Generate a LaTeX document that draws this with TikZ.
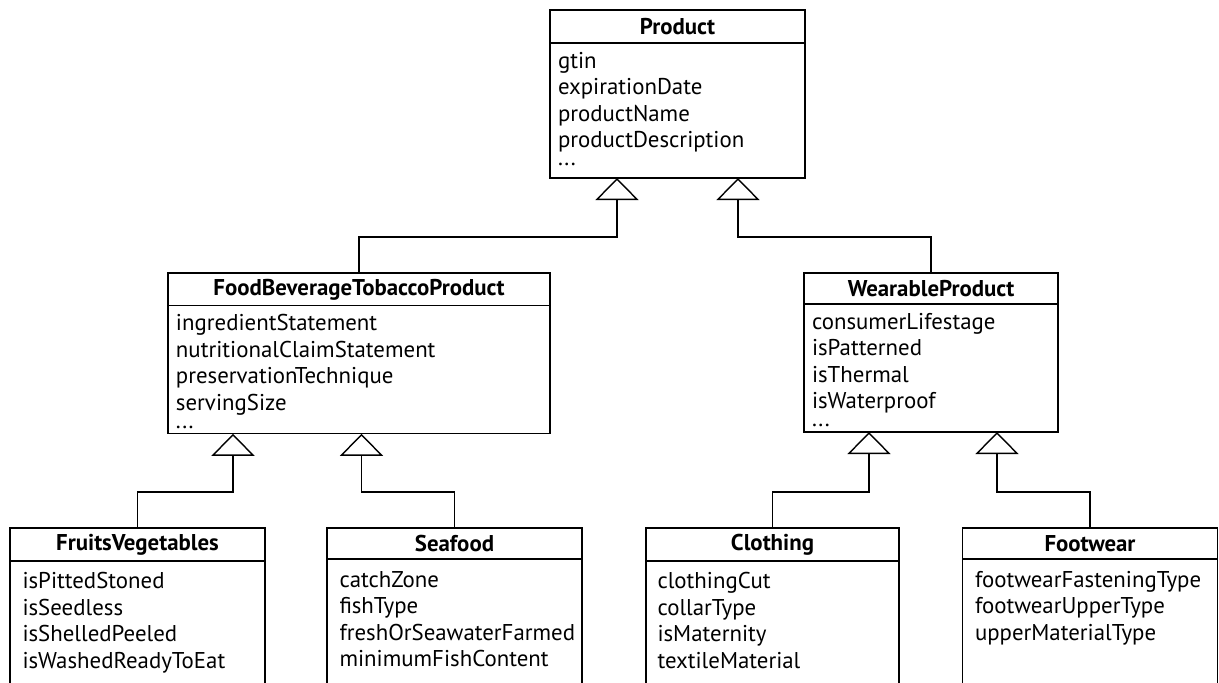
\documentclass[tikz,border=0pt]{standalone}
\usepackage{fontspec}
\setmainfont{PT Sans}
\usetikzlibrary{arrows.meta, positioning}

\begin{document}
\begin{tikzpicture}[
  hdr/.style={rectangle, draw=black, thick, outer sep=0pt, minimum height=0.62cm,
    font=\fontsize{13}{15}\selectfont\bfseries, text centered},
  attrs/.style={rectangle, draw=black, thick, outer sep=0pt, align=left,
    font=\fontsize{13}{15.1}\selectfont, inner ysep=0.2cm, text height=0.3cm},
  gen/.style={-{Triangle[open, length=0.44cm, width=0.86cm]}, thick}
]
\path[use as bounding box, clip] (0,0) rectangle (24.38,-13.64);
% === Level 0: Product ===
\node[hdr, minimum width=5.1cm, minimum height=0.66cm, anchor=north] (prodHdr) at (13.55,-0.2) {Product};
\node[attrs, below=0pt of prodHdr, text width=4.78cm, inner xsep=0.16cm, text depth=2.0cm] (prodBody)
  {gtin\\expirationDate\\productName\\productDescription\\[-5pt]...};
% === Level 1: FoodBeverageTobaccoProduct / WearableProduct ===
\node[hdr, minimum width=7.64cm, anchor=north] (fbtHdr) at (7.18,-5.46) {FoodBeverageTobaccoProduct};
\node[attrs, below=0pt of fbtHdr, text width=7.32cm, inner xsep=0.16cm, text depth=1.86cm] (fbtBody)
  {ingredientStatement\\nutritionalClaimStatement\\preservationTechnique\\servingSize\\[-5pt]...};
\node[hdr, minimum width=5.08cm, anchor=north] (wearHdr) at (18.62,-5.46) {WearableProduct};
\node[attrs, below=0pt of wearHdr, text width=4.76cm, inner xsep=0.16cm, text depth=1.86cm] (wearBody)
  {consumerLifestage\\isPatterned\\isThermal\\isWaterproof\\[-5pt]...};
% === Level 2: subclasses (cut off at the bottom) ===
\node[hdr, minimum width=5.1cm, anchor=north] (fruitHdr) at (2.75,-10.56) {FruitsVegetables};
\node[attrs, below=0pt of fruitHdr, text width=4.6cm, inner xsep=0.25cm, inner ysep=0.26cm, text depth=2.6cm] (fruitBody)
  {isPittedStoned\\isSeedless\\isShelledPeeled\\isWashedReadyToEat\\[-5pt]...};
\node[hdr, minimum width=5.1cm, anchor=north] (seaHdr) at (9.09,-10.56) {Seafood};
\node[attrs, below=0pt of seaHdr, text width=4.6cm, inner xsep=0.25cm, inner ysep=0.26cm, text depth=2.6cm] (seaBody)
  {catchZone\\fishType\\freshOrSeawaterFarmed\\minimumFishContent};
\node[hdr, minimum width=5.06cm, anchor=north] (clothHdr) at (15.45,-10.56) {Clothing};
\node[attrs, below=0pt of clothHdr, text width=4.6cm, inner xsep=0.23cm, inner ysep=0.26cm, text depth=2.6cm] (clothBody)
  {clothingCut\\collarType\\isMaternity\\textileMaterial};
\node[hdr, minimum width=5.1cm, anchor=north] (footHdr) at (21.8,-10.56) {Footwear};
\node[attrs, below=0pt of footHdr, text width=4.6cm, inner xsep=0.25cm, inner ysep=0.26cm, text depth=2.6cm] (footBody)
  {footwearFasteningType\\footwearUpperType\\upperMaterialType};
% === Generalization arrows ===
\draw[gen] (fbtHdr.north) -- ++(0,0.72) -| ([xshift=-1.21cm]prodBody.south);
\draw[gen] (wearHdr.north) -- ++(0,0.72) -| ([xshift=1.21cm]prodBody.south);
\draw[gen] (fruitHdr.north) -- ++(0,0.72) -| ([xshift=-2.52cm]fbtBody.south);
\draw[gen] (seaHdr.north) -- ++(0,0.72) -| ([xshift=0.05cm]fbtBody.south);
\draw[gen] (clothHdr.north) -- ++(0,0.72) -| ([xshift=-1.24cm]wearBody.south);
\draw[gen] (footHdr.north) -- ++(0,0.72) -| ([xshift=1.32cm]wearBody.south);
\end{tikzpicture}
\end{document}
